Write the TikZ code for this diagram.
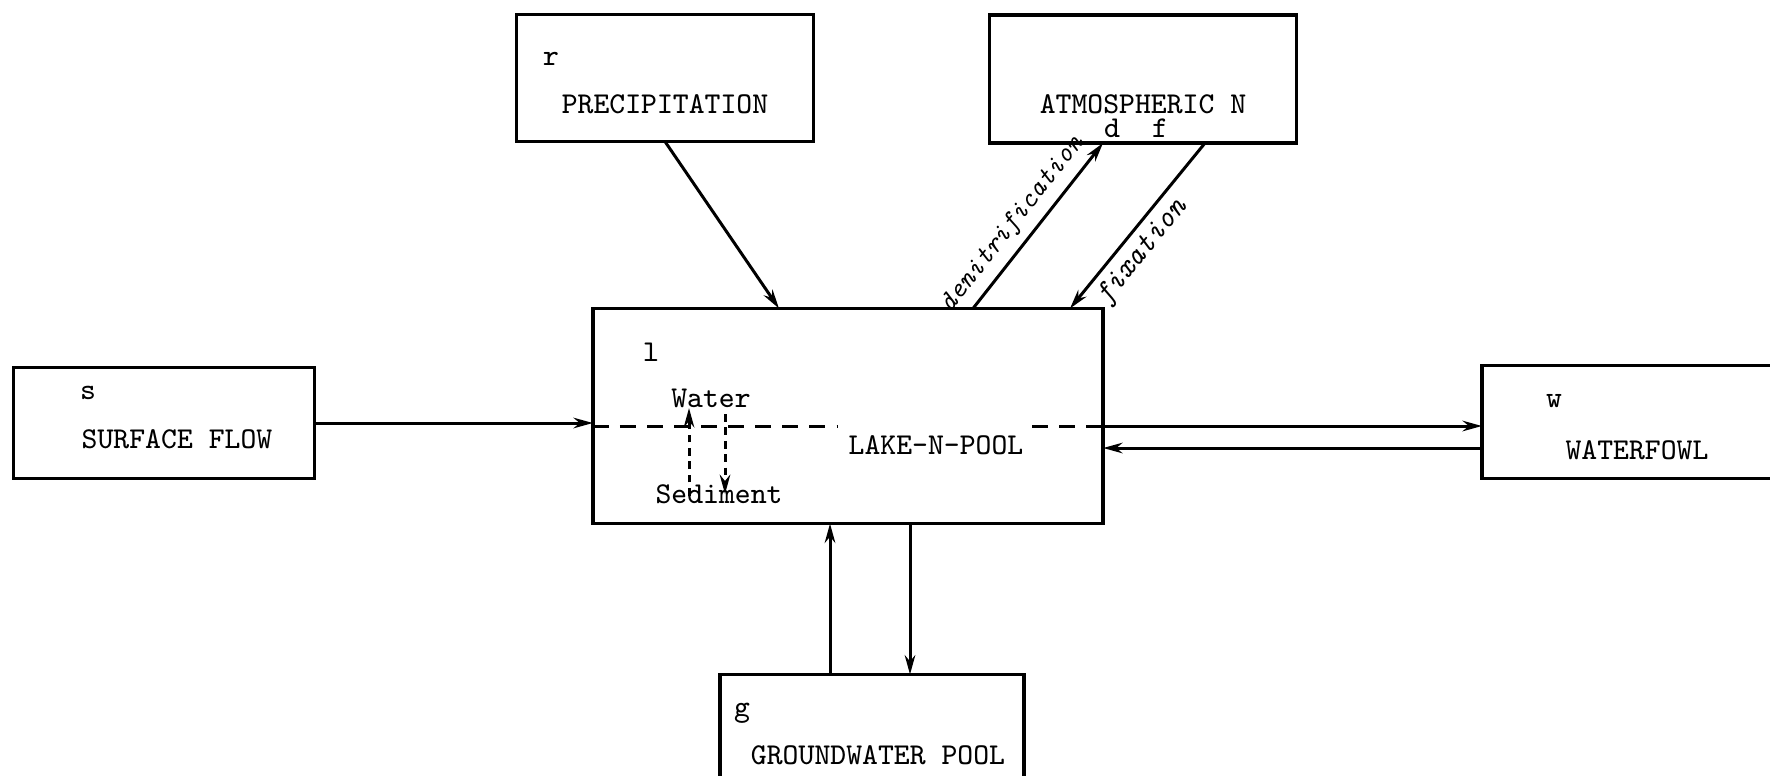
\documentclass[tikz,border=0pt]{standalone}
\usepackage{fontspec}
\usepackage{tikz}
\usetikzlibrary{arrows.meta, positioning, calc}

\begin{document}
\begin{tikzpicture}[x=0.01cm, y=-0.01cm, >={Stealth[length=5.5pt,width=3pt]},
    font=\ttfamily\fontsize{8.6}{10}\selectfont,
    pool/.style={draw, line width=1pt, inner sep=0pt, outer sep=0pt},
    tag/.style={inner sep=0pt},
    flow/.style={->, line width=0.85pt},
    slant/.style={font=\ttfamily\itshape\fontsize{7.8}{9}\selectfont, inner sep=2pt},
    layer/.style={line width=0.85pt, dash pattern=on 4.5pt off 3.2pt},
    swap/.style={->, line width=0.85pt, dash pattern=on 2.2pt off 1.6pt}]
    \useasboundingbox (0,0) rectangle (1770,775);

    % compartments
    \node[pool, minimum width=2.97cm, minimum height=1.27cm] (prec) at ({665},{78}) {};
    \node[pool, minimum width=3.07cm, minimum height=1.28cm] (atm) at ({1143},{79}) {};
    \node[pool, minimum width=5.10cm, minimum height=2.15cm] (lake) at ({848},{416}) {};
    \node[pool, minimum width=3.01cm, minimum height=1.11cm] (sf) at ({164},{423}) {};
    \node[pool, minimum width=3.18cm, minimum height=1.13cm] (wf) at ({1641},{422}) {};
    \node[pool, minimum width=3.04cm, minimum height=1.25cm] (gw) at ({872},{737}) {};

    \node[tag] (rtag) at ({551},{59}) {r};
    \node[tag] (prectxt) at ({665},{104}) {PRECIPITATION};
    \node[tag] (atmtxt) at ({1143},{104}) {ATMOSPHERIC N};
    \node[tag] (dtag) at ({1112},{128}) {d};
    \node[tag] (ftag) at ({1160},{128}) {f};
    \node[tag] (ltag) at ({651},{352}) {l};
    \node[tag] (laketxt) at ({936},{445}) {LAKE-N-POOL};
    \node[tag] (water) at ({711},{398}) {Water};
    \node[tag] (sed) at ({719},{494}) {Sediment};
    \node[tag] (stag) at ({88},{393}) {s};
    \node[tag] (sftxt) at ({177},{439}) {SURFACE FLOW};
    \node[tag] (wtag) at ({1554},{401}) {w};
    \node[tag] (wftxt) at ({1637},{450}) {WATERFOWL};
    \node[tag] (gtag) at ({742},{713}) {g};
    \node[tag] (gwtxt) at ({878},{755}) {GROUNDWATER POOL};

    % water / sediment boundary
    \coordinate (lw) at ($(lake.west)+(0,10)$);
    \coordinate (le) at ($(lake.east)+(0,10)$);
    \draw[layer] (lw) -- ($(lw)+(244,0)$);
    \draw[layer] ($(le)+(-71,0)$) -- (le);
    \coordinate (upft) at ($(sed.north)+(-30,12)$);
    \coordinate (dnhd) at ($(water.south)+(14,6)$);
    \draw[swap] (upft) -- (upft |- water.south);
    \draw[swap] (dnhd) -- (dnhd |- sed.center);

    % fluxes
    \draw[flow] (prec.south) -- ($(lake.north)+(-69,0)$);
    \draw[flow] ($(lake.north)+(125,0)$) -- node[pos=0.43, above, sloped, slant]{denitrification} ($(atm.south)+(-40,0)$);
    \draw[flow] ($(atm.south)+(62,0)$) -- node[pos=0.58, below, sloped, slant, font=\ttfamily\itshape\fontsize{8.6}{10}\selectfont]{fixation} ($(lake.north)+(222,0)$);
    \draw[flow] (sf.east) -- (sf.east -| lake.west);
    \draw[flow] (le) -- (le -| wf.west);
    \coordinate (wb) at ($(wf.west)+(0,26)$);
    \draw[flow] (wb) -- (wb -| lake.east);
    \coordinate (gup) at ($(gw.north)+(-42,0)$);
    \coordinate (gdn) at ($(gw.north)+(38,0)$);
    \draw[flow] (gup) -- (gup |- lake.south);
    \draw[flow] (gdn |- lake.south) -- (gdn);
\end{tikzpicture}
\end{document}
